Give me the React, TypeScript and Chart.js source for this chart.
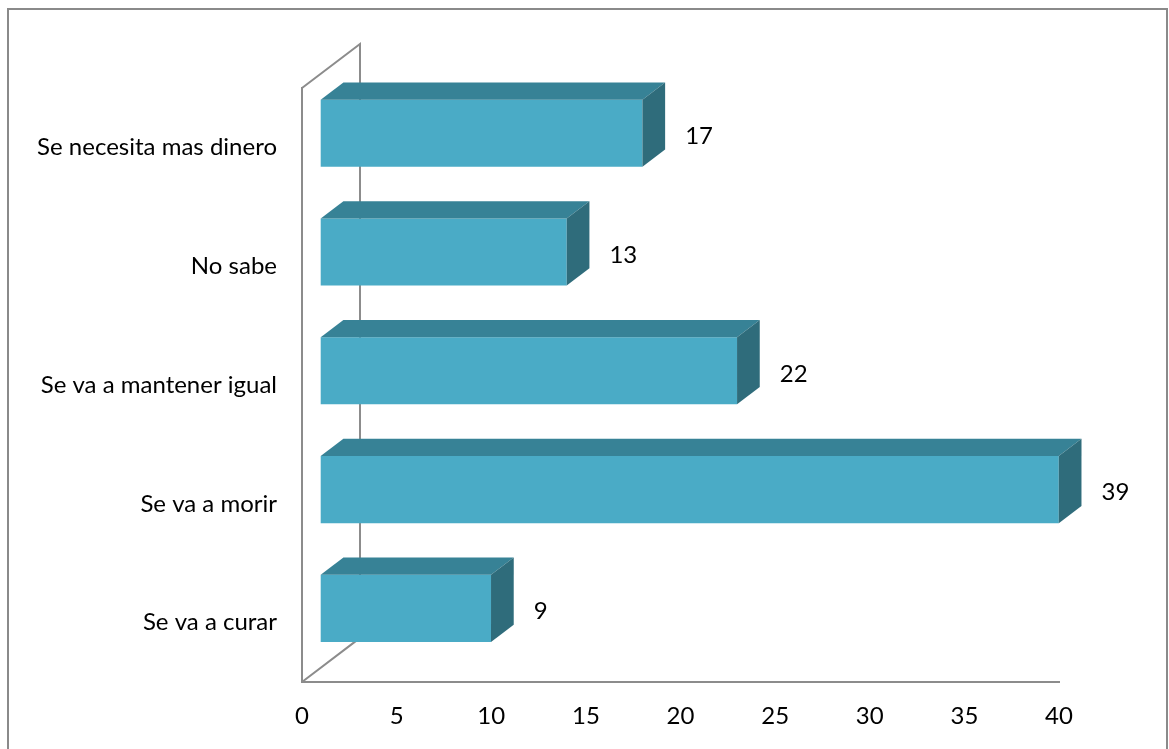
import { useEffect, useRef } from "react";
import { Chart, registerables } from "chart.js";

Chart.register(...registerables);

const categories = [
  "Se necesita mas dinero",
  "No sabe",
  "Se va a mantener igual",
  "Se va a morir",
  "Se va a curar",
];
const values = [17, 13, 22, 39, 9];
const tickValues = [0, 5, 10, 15, 20, 25, 30, 35, 40];

const FONT = "Lato, 'Open Sans', sans-serif";
const FONT_SIZE = 24;
const FRONT = "#4aabc6";
const TOP = "#378296";
const SIDE = "#2f6c7b";
const LINE = "#8c8c8c";

const DEPTH_RATIO = 0.76;
const WALL_DX = 58;
const BAR_DX0 = 18.7;
const BAR_DX1 = 41.4;

const threeD = {
  id: "threeD",
  beforeDatasetsDraw(chart: any) {
    const { ctx, chartArea: a } = chart;
    const dy = WALL_DX * DEPTH_RATIO;
    ctx.save();
    ctx.strokeStyle = LINE;
    ctx.lineWidth = 2;
    ctx.beginPath();
    ctx.moveTo(a.left, a.top);
    ctx.lineTo(a.left + WALL_DX, a.top - dy);
    ctx.lineTo(a.left + WALL_DX, a.bottom - dy);
    ctx.lineTo(a.left, a.bottom);
    ctx.stroke();
    ctx.restore();
  },
  beforeDatasetDraw(chart: any) {
    chart.ctx.save();
    chart.ctx.translate(BAR_DX0, -BAR_DX0 * DEPTH_RATIO);
  },
  afterDatasetDraw(chart: any, args: any) {
    const ctx = chart.ctx;
    const ddx = BAR_DX1 - BAR_DX0;
    const ddy = ddx * DEPTH_RATIO;
    args.meta.data.forEach((bar: any) => {
      const { x, y, base, height } = bar.getProps(["x", "y", "base", "height"], true);
      const t = y - height / 2;
      const b = y + height / 2;
      ctx.fillStyle = TOP;
      ctx.beginPath();
      ctx.moveTo(base, t);
      ctx.lineTo(x, t);
      ctx.lineTo(x + ddx, t - ddy);
      ctx.lineTo(base + ddx, t - ddy);
      ctx.closePath();
      ctx.fill();
      ctx.fillStyle = SIDE;
      ctx.beginPath();
      ctx.moveTo(x, t);
      ctx.lineTo(x + ddx, t - ddy);
      ctx.lineTo(x + ddx, b - ddy);
      ctx.lineTo(x, b);
      ctx.closePath();
      ctx.fill();
    });
    ctx.restore();
  },
  afterDatasetsDraw(chart: any) {
    const ctx = chart.ctx;
    const meta = chart.getDatasetMeta(0);
    const ds = chart.data.datasets[0];
    ctx.save();
    ctx.fillStyle = "#000";
    ctx.font = `${FONT_SIZE}px ${FONT}`;
    ctx.textAlign = "left";
    ctx.textBaseline = "middle";
    meta.data.forEach((bar: any, i: number) => {
      const { x, y } = bar.getProps(["x", "y"], true);
      ctx.fillText(String(ds.data[i]), x + BAR_DX1 + 20, y - BAR_DX0 * DEPTH_RATIO + 3);
    });
    ctx.restore();
  },
};

export default function App() {
  const ref = useRef<HTMLCanvasElement>(null);
  useEffect(() => {
    const chart = new Chart(ref.current!, {
      type: "bar",
      data: {
        labels: categories,
        datasets: [
          {
            data: values,
            backgroundColor: FRONT,
            borderWidth: 0,
            barPercentage: 0.565,
            categoryPercentage: 1,
            clip: false as any,
          },
        ],
      },
      options: {
        indexAxis: "y",
        animation: false,
        responsive: false,
        events: [],
        layout: { padding: { left: 8, right: 110, top: 88, bottom: 17 } },
        plugins: { legend: { display: false }, tooltip: { enabled: false } },
        scales: {
          x: {
            min: 0,
            max: 40,
            afterBuildTicks: (s: any) => {
              s.ticks = tickValues.map((v) => ({ value: v }));
            },
            afterFit: (s: any) => {
              s.height = 50;
            },
            grid: { display: false, drawTicks: false },
            border: { display: true, color: LINE, width: 2 },
            ticks: { color: "#000", font: { family: FONT, size: FONT_SIZE }, padding: 20, maxRotation: 0 },
          },
          y: {
            afterFit: (s: any) => {
              s.width = 294;
            },
            grid: { display: false, drawTicks: false },
            border: { display: true, color: LINE, width: 2 },
            ticks: { color: "#000", font: { family: FONT, size: FONT_SIZE }, padding: 25 },
          },
        },
      },
      plugins: [threeD],
    });
    return () => chart.destroy();
  }, []);
  return (
    <div style={{ position: "fixed", left: 0, top: 0, width: 1169, height: 749, background: "#fff" }}>
      <div
        style={{
          position: "absolute",
          left: 7,
          top: 8,
          width: 1161,
          height: 780,
          border: "2px solid #8a8a8a",
          boxSizing: "border-box",
        }}
      />
      <canvas ref={ref} width={1169} height={749} style={{ position: "absolute", left: 0, top: 0, display: "block" }} />
    </div>
  );
}
